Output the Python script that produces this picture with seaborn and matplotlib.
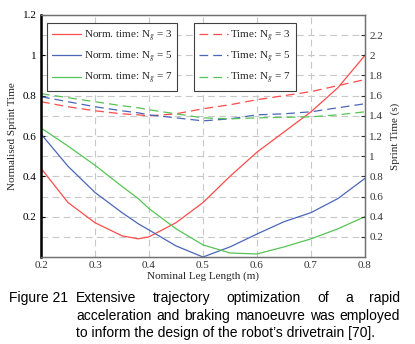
import numpy as np
import pandas as pd
import seaborn as sns
import matplotlib.pyplot as plt

# leg length (m)
leg = [0.2, 0.25, 0.3, 0.35, 0.38, 0.4, 0.45, 0.5, 0.55, 0.6, 0.65, 0.7, 0.75, 0.8]

# normalised sprint time (left axis)
norm_3 = [0.44, 0.27, 0.17, 0.105, 0.09, 0.10, 0.17, 0.27, 0.40, 0.52, 0.62, 0.72, 0.84, 1.00]
norm_5 = [0.61, 0.45, 0.32, 0.22, 0.165, 0.134, 0.055, 0.0, 0.05, 0.114, 0.175, 0.22, 0.29, 0.39]
norm_7 = [0.64, 0.55, 0.455, 0.35, 0.29, 0.24, 0.14, 0.06, 0.02, 0.015, 0.05, 0.09, 0.14, 0.20]

# sprint time in s (right axis)
time_3 = [1.54, 1.49, 1.45, 1.42, 1.41, 1.40, 1.42, 1.47, 1.51, 1.56, 1.60, 1.64, 1.70, 1.76]
time_5 = [1.59, 1.54, 1.49, 1.45, 1.43, 1.41, 1.38, 1.35, 1.37, 1.41, 1.42, 1.44, 1.48, 1.52]
time_7 = [1.62, 1.58, 1.54, 1.50, 1.48, 1.46, 1.42, 1.38, 1.37, 1.38, 1.385, 1.39, 1.41, 1.44]

gears = [3, 5, 7]
colors = ['#ff4b4b', '#4a66b8', '#55c455']

sns.set_style('white')
plt.rcParams['font.family'] = ['Liberation Serif', 'DejaVu Serif']
plt.rcParams['mathtext.fontset'] = 'stix'

fig = plt.figure(figsize=(4.15, 3.44), dpi=100)
ax = fig.add_axes([0.0988, 0.2529, 0.7807, 0.7035])
ax2 = ax.twinx()

norm_df = pd.DataFrame({'leg': leg * 3, 'val': norm_3 + norm_5 + norm_7,
                        'Ng': np.repeat(gears, len(leg))})
time_df = pd.DataFrame({'leg': leg * 3, 'val': time_3 + time_5 + time_7,
                        'Ng': np.repeat(gears, len(leg))})

for g, c in zip(gears, colors):
    sns.lineplot(data=norm_df[norm_df.Ng == g], x='leg', y='val', ax=ax, color=c,
                 lw=0.9, label=r'Norm. time: N$_g$ = %d' % g)
for g, c in zip(gears, colors):
    sns.lineplot(data=time_df[time_df.Ng == g], x='leg', y='val', ax=ax2, color=c,
                 lw=0.9, dashes=False, label=r'Time: N$_g$ = %d' % g)
for l in ax2.get_lines():
    l.set_linestyle((0, (7, 4)))

ax.set_xlim(0.2, 0.8)
ax.set_ylim(0, 1.2)
ax2.set_ylim(0, 2.4)
ax.set_xticks([0.2, 0.3, 0.4, 0.5, 0.6, 0.7, 0.8])
ax.set_xticklabels(['0.2', '0.3', '0.4', '0.5', '0.6', '0.7', '0.8'])
ax.set_yticks([0.2, 0.4, 0.6, 0.8, 1.0, 1.2])
ax.set_yticklabels(['0.2', '0.4', '0.6', '0.8', '1', '1.2'])
r_ticks = [0.2, 0.4, 0.6, 0.8, 1.0, 1.2, 1.4, 1.6, 1.8, 2.0, 2.2]
ax2.set_yticks(r_ticks)
ax2.set_yticklabels(['0.2', '0.4', '0.6', '0.8', '1', '1.2', '1.4', '1.6', '1.8', '2', '2.2'])

# grid every 0.1 on left scale
for yv in np.arange(0.1, 1.2, 0.1):
    ax.axhline(yv, color='#c8c8c8', lw=0.8, ls=(0, (6, 4)), zorder=0)
for xv in [0.3, 0.4, 0.5, 0.6, 0.7]:
    ax.axvline(xv, color='#c8c8c8', lw=0.8, ls=(0, (6, 4)), zorder=0)

for a in (ax, ax2):
    a.tick_params(direction='in', length=3, width=0.8, labelsize=8, colors='#333333', pad=3)
    for s in a.spines.values():
        s.set_color('#707070')
        s.set_linewidth(0.9)
ax.tick_params(axis='y', colors='black')
ax2.spines['left'].set_color('black')
ax2.spines['left'].set_linewidth(1.8)

ax.set_xlabel('Nominal Leg Length (m)', fontsize=8, labelpad=1)
ax.set_ylabel('Normalised Sprint Time', fontsize=8, labelpad=4)
ax2.set_ylabel('Sprint Time (s)', fontsize=8, labelpad=5)

h1, l1 = ax.get_legend_handles_labels()
h2, l2 = ax2.get_legend_handles_labels()
ax.get_legend().remove()
ax2.get_legend().remove()
leg1 = ax2.legend(h1, l1, loc='upper left', bbox_to_anchor=(0.02, 0.965), fontsize=8,
                  frameon=True, fancybox=False, edgecolor='#404040', framealpha=1,
                  handlelength=2.6, handletextpad=0.2, borderpad=0.45, labelspacing=0.55,
                  borderaxespad=0)
leg1.get_frame().set_linewidth(0.8)
ax2.add_artist(leg1)
leg2 = ax2.legend(h2, l2, loc='upper left', bbox_to_anchor=(0.472, 0.965), fontsize=8,
                  frameon=True, fancybox=False, edgecolor='#404040', framealpha=1,
                  handlelength=2.6, handletextpad=0.2, borderpad=0.45, labelspacing=0.55,
                  borderaxespad=0)
leg2.get_frame().set_linewidth(0.8)

# caption, justified by hand
cap_font = dict(fontsize=10, family='Liberation Sans', color='black')
fig.text(9 / 415, 1 - 298 / 344, 'Figure 21', va='center', ha='left', **cap_font)
lines = [('Extensive trajectory optimization of a rapid', True, 298),
         ('acceleration and braking manoeuvre was employed', True, 316),
         ("to inform the design of the robot\u2019s drivetrain [70].", False, 333)]
x0, x1 = 76, 400
renderer = fig.canvas.get_renderer()
for txt, just, yp in lines:
    if not just:
        fig.text(x0 / 415, 1 - yp / 344, txt, va='center', ha='left', **cap_font)
        continue
    words = txt.split()
    arts = [fig.text(0, 1 - yp / 344, w, va='center', ha='left', **cap_font) for w in words]
    widths = [a.get_window_extent(renderer).width for a in arts]
    gap = (x1 - x0 - sum(widths)) / (len(words) - 1)
    xp = x0
    for a, w in zip(arts, widths):
        a.set_x(xp / 415)
        xp += w + gap

fig.savefig('out.png', dpi=100)
